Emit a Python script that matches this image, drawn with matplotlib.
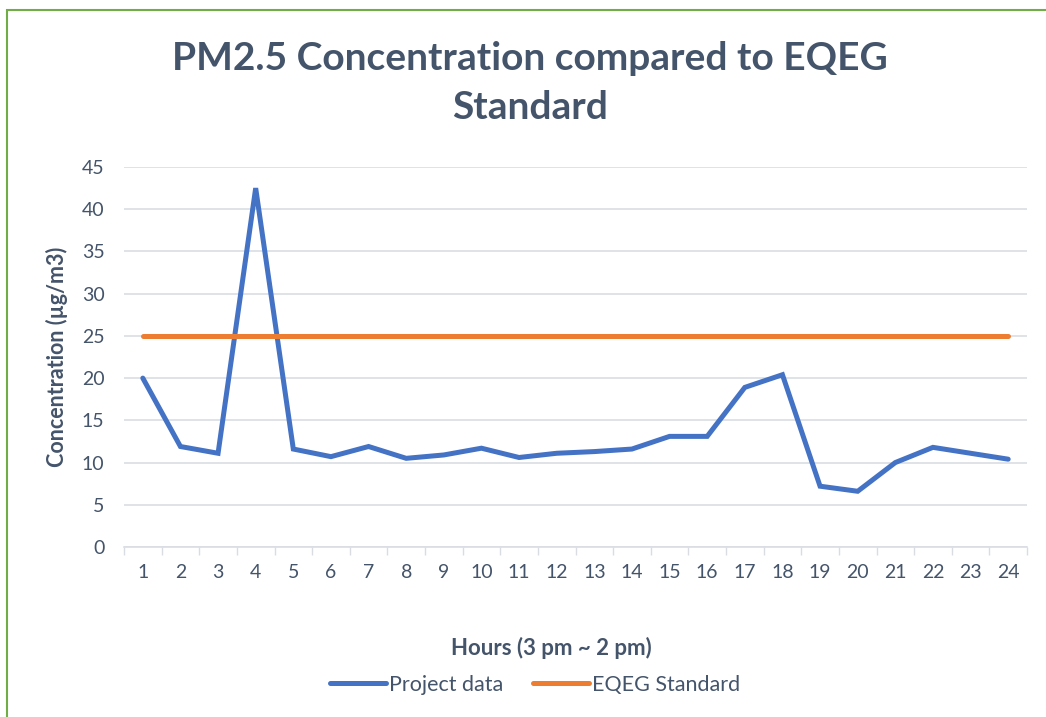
import matplotlib.pyplot as plt
from matplotlib.patches import Rectangle
from matplotlib.ticker import FixedLocator, NullFormatter

plt.rcParams['font.family'] = ['Lato', 'DejaVu Sans']

# --- data ---
hours = list(range(1, 25))
project_data = [20.0, 11.9, 11.1, 42.5, 11.6, 10.7, 11.9, 10.5, 10.9, 11.7, 10.6, 11.1,
                11.3, 11.6, 13.1, 13.1, 18.9, 20.4, 7.2, 6.6, 10.0, 11.8, 11.1, 10.4]
eqeg_standard = [25] * 24

text_col = '#44546A'
grid_col = '#D9DDE3'

fig = plt.figure(figsize=(10.46, 7.17), dpi=100)
ax = fig.add_axes([124 / 1046, 1 - 547 / 717, (1027 - 124) / 1046, (547 - 167) / 717])

ax.plot(hours, project_data, color='#4472C4', linewidth=3.6, solid_capstyle='round',
        solid_joinstyle='miter', label='Project data', zorder=3)
ax.plot(hours, eqeg_standard, color='#ED7D31', linewidth=3.6, solid_capstyle='round',
        label='EQEG Standard', zorder=3)

ax.set_xlim(0.5, 24.5)
ax.set_ylim(0, 45)
ax.set_yticks(range(0, 46, 5))
ax.set_xticks(hours)
ax.xaxis.set_minor_locator(FixedLocator([h + 0.5 for h in range(0, 25)]))
ax.xaxis.set_minor_formatter(NullFormatter())
ax.tick_params(axis='x', which='major', length=0, pad=12, labelsize=14, labelcolor=text_col)
ax.tick_params(axis='x', which='minor', length=6, width=1, color=grid_col)
ax.tick_params(axis='y', length=0, pad=14, labelsize=14, labelcolor=text_col)

ax.grid(axis='y', color=grid_col, linewidth=1.2)
ax.set_axisbelow(True)
for side in ['top', 'right', 'left']:
    ax.spines[side].set_visible(False)
ax.spines['bottom'].set_color(grid_col)
ax.spines['bottom'].set_linewidth(1.2)

fig.text(57 / 1046, 1 - 357 / 717, 'Concentration (µg/m3)', rotation=90, ha='center', va='center',
         fontsize=15.5, fontweight='bold', color=text_col)
fig.text(551 / 1046, 1 - 648 / 717, 'Hours (3 pm ~ 2 pm)', ha='center', va='center',
         fontsize=16, fontweight='bold', color=text_col)
fig.text(530 / 1046, 1 - 83 / 717, 'PM2.5 Concentration compared to EQEG\nStandard',
         ha='center', va='center', fontsize=28, fontweight='bold', color=text_col,
         linespacing=1.5)

leg = fig.legend(loc='center', bbox_to_anchor=(535 / 1046, 1 - 685 / 717), ncol=2,
                 frameon=False, fontsize=15.5, handlelength=2.6, handletextpad=0.15,
                 columnspacing=1.4)
for t in leg.get_texts():
    t.set_color(text_col)

# green chart-area border (runs off the right and bottom of the picture)
fig.patches.append(Rectangle((7 / 1046, -0.1), 1.2, 1 - 10 / 717 + 0.1,
                             transform=fig.transFigure, fill=False,
                             edgecolor='#70AD47', linewidth=1.5))

fig.savefig('out.png', dpi=100)
